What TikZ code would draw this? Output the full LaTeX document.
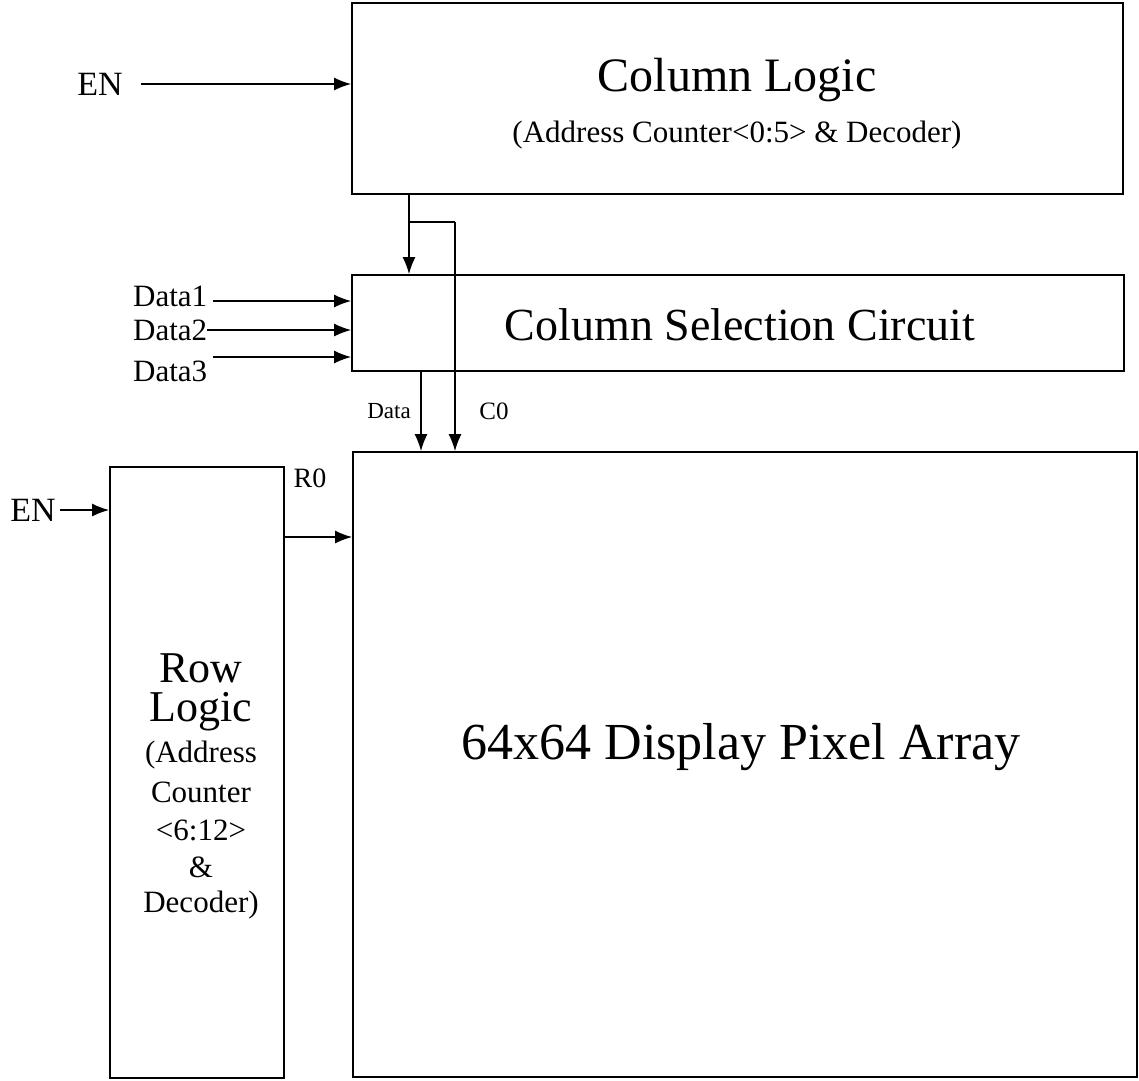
\documentclass[tikz,border=0pt]{standalone}
\usepackage{fontspec}
\setmainfont{Liberation Serif}
\usepackage{tikz}
\usetikzlibrary{arrows.meta}

\begin{document}
\begin{tikzpicture}[x=1pt, y=-1pt]
      \tikzstyle{block} = [
        rectangle,
        draw,
        line width = 1.8pt,
        inner sep = 0pt,
        align = center
      ]

      \tikzstyle{wire} = [
        line width = 1.4pt,
        -{Latex[length=17pt, width=13pt]}
      ]

      \tikzstyle{bus} = [
        line width = 1.4pt
      ]

      \tikzstyle{sig} = [
        inner sep = 0pt,
        font = \fontsize{31}{33}\selectfont
      ]

      \tikzstyle{rowtext} = [
        inner sep = 0pt,
        font = \fontsize{31}{33}\selectfont
      ]

      \useasboundingbox (0,0) rectangle (1139,1080);

      \node[block, minimum width = 771pt, minimum height = 191pt]
      (collogic) at (737.5,98.5) {};
      \node[block, minimum width = 772pt, minimum height = 96pt]
      (colsel) at (738,323) {};
      \node[block, minimum width = 784pt, minimum height = 625pt]
      (array) at (745,764.5) {};
      \node[block, minimum width = 174pt, minimum height = 611pt]
      (rowlogic) at (197,772.5) {};

      \node[inner sep = 0pt] (coltitle) at (737,80)
      {\fontsize{48}{50}\selectfont Column Logic};
      \node[inner sep = 0pt] (colsub) at (737,135)
      {\fontsize{31}{33}\selectfont (Address Counter<0:5> \& Decoder)};
      \node[inner sep = 0pt] (seltitle) at (740,325)
      {\fontsize{46}{48}\selectfont Column Selection Circuit};
      \node[inner sep = 0pt] (arraytitle) at (741,747)
      {\fontsize{52}{54}\selectfont 64x64 Display Pixel Array};

      % row logic label, one line per node
      \node[rowtext, font = \fontsize{44}{46}\selectfont] (rowl1) at (201,668) {Row};
      \node[rowtext, font = \fontsize{44}{46}\selectfont] (rowl2) at (201,712) {Logic};
      \node[rowtext] (rowl3) at (201,755) {(Address};
      \node[rowtext] (rowl4) at (201,792) {Counter};
      \node[rowtext] (rowl5) at (201,830) {<6:12>};
      \node[rowtext] (rowl6) at (201,867) {\&};
      \node[rowtext] (rowl7) at (201,905) {Decoder)};

      \node[sig, font = \fontsize{34}{36}\selectfont] (entop) at (100,84) {EN};
      \node[sig, font = \fontsize{34}{36}\selectfont] (enrow) at (33,510) {EN};
      \node[sig, anchor = west] (data1) at (133,296) {Data1};
      \node[sig, anchor = west] (data2) at (133,330) {Data2};
      \node[sig, anchor = west] (data3) at (133,371) {Data3};
      \node[sig, font = \fontsize{23}{25}\selectfont] (datalbl) at (389,411) {Data};
      \node[sig, font = \fontsize{25}{27}\selectfont] (c0lbl) at (494,411) {C0};
      \node[sig, font = \fontsize{28}{30}\selectfont] (r0lbl) at (310,478) {R0};

      \coordinate (split) at (409,222);
      \coordinate (c0turn) at (455,222);

      \draw[wire] ([xshift = 18pt]entop.east) -- (entop -| collogic.west);
      \draw[wire] ([xshift = 6pt]data1.east |- 0,301) -- (colsel.west |- 0,301);
      \draw[wire] (data2.east) -- (data2 -| colsel.west);
      \draw[wire] (213,357) -- (colsel.west |- 0,357);
      \draw[wire] (collogic.south -| split) -- (colsel.north -| split);
      \draw[bus] (split) -- (c0turn);
      \draw[wire] (c0turn) -- (array.north -| c0turn);
      \draw[wire] (colsel.south -| 421,0) -- (array.north -| 421,0);
      \draw[wire] (rowlogic.east |- 0,537) -- (array.west |- 0,537);
      \draw[wire] ([xshift = 4pt]enrow.east) -- (enrow -| rowlogic.west);
    \end{tikzpicture}
\end{document}
